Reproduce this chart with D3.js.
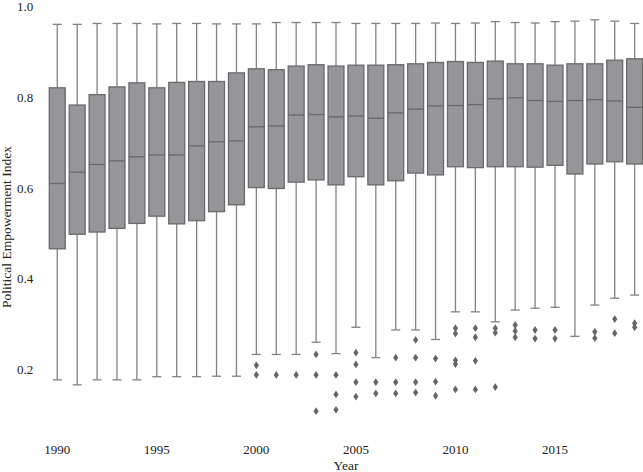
<!DOCTYPE html>
<html>
<head>
<meta charset="utf-8">
<script src="https://cdn.jsdelivr.net/npm/d3@7"></script>
<style>
  body { margin: 0; background: #fff; }
  text { font-family: "Liberation Serif", "Times New Roman", serif; fill: #222; }
</style>
</head>
<body>
<div id="chart"></div>
<script>
// Box statistics per year
const years = [1990, 1991, 1992, 1993, 1994, 1995, 1996, 1997, 1998, 1999,
               2000, 2001, 2002, 2003, 2004, 2005, 2006, 2007, 2008, 2009,
               2010, 2011, 2012, 2013, 2014, 2015, 2016, 2017, 2018, 2019];

const whiskerHi = [0.958, 0.958, 0.960, 0.960, 0.960, 0.959, 0.960, 0.960, 0.959, 0.959,
                   0.959, 0.962, 0.962, 0.962, 0.962, 0.960, 0.960, 0.960, 0.960, 0.961,
                   0.960, 0.961, 0.964, 0.962, 0.961, 0.964, 0.965, 0.968, 0.965, 0.960];

const q3 = [0.818, 0.780, 0.803, 0.820, 0.829, 0.818, 0.830, 0.832, 0.832, 0.851,
            0.860, 0.858, 0.866, 0.869, 0.866, 0.868, 0.868, 0.869, 0.871, 0.874,
            0.876, 0.874, 0.877, 0.871, 0.871, 0.868, 0.871, 0.871, 0.879, 0.882];

const median = [0.607, 0.632, 0.649, 0.657, 0.666, 0.670, 0.670, 0.690, 0.699, 0.701,
                0.732, 0.734, 0.758, 0.759, 0.754, 0.756, 0.751, 0.763, 0.771, 0.778,
                0.779, 0.781, 0.794, 0.796, 0.790, 0.788, 0.790, 0.792, 0.789, 0.775];

const q1 = [0.463, 0.495, 0.500, 0.508, 0.519, 0.535, 0.518, 0.525, 0.545, 0.560,
            0.598, 0.596, 0.610, 0.615, 0.604, 0.622, 0.604, 0.613, 0.630, 0.626,
            0.644, 0.642, 0.644, 0.644, 0.643, 0.647, 0.628, 0.650, 0.655, 0.650];

const whiskerLo = [0.174, 0.163, 0.174, 0.174, 0.174, 0.181, 0.181, 0.181, 0.182, 0.182,
                   0.230, 0.230, 0.230, 0.257, 0.232, 0.290, 0.223, 0.284, 0.284, 0.263,
                   0.324, 0.324, 0.302, 0.328, 0.332, 0.334, 0.270, 0.339, 0.354, 0.361];

const outliers = [[], [], [], [], [], [], [], [], [], [],
                  [0.206, 0.185],
                  [0.185],
                  [0.185],
                  [0.230, 0.185, 0.105],
                  [0.185, 0.142, 0.108],
                  [0.234, 0.208, 0.169, 0.137],
                  [0.169, 0.144],
                  [0.223, 0.169, 0.144],
                  [0.262, 0.223, 0.169, 0.146],
                  [0.221, 0.170, 0.139],
                  [0.288, 0.276, 0.217, 0.209, 0.153],
                  [0.288, 0.268, 0.216, 0.153],
                  [0.288, 0.278, 0.158],
                  [0.295, 0.282, 0.268],
                  [0.284, 0.265],
                  [0.284, 0.265],
                  [],
                  [0.280, 0.266],
                  [0.308, 0.277],
                  [0.299, 0.290]];

const xTickYears = [1990, 1995, 2000, 2005, 2010, 2015];
const yTicks = [0.2, 0.4, 0.6, 0.8, 1.0];

const width = 643;
const height = 472;

const svg = d3.select("#chart")
    .append("svg")
    .attr("width", width)
    .attr("height", height);

const x = d3.scaleBand()
    .domain(years)
    .range([47.3, 644.6])
    .padding(0);

const y = d3.scaleLinear()
    .domain([0.02, 1.0])
    .range([449.7, 5.3]);

const boxW = x.bandwidth() * 0.8;
const capW = 9;
const edge = "#6a6a6a";
const whisk = "#828282";

// y axis, no line and no ticks
const yAxis = svg.append("g")
    .attr("transform", "translate(47.3,0)")
    .call(d3.axisLeft(y).tickValues(yTicks).tickSize(0).tickPadding(14).tickFormat(d3.format(".1f")));
yAxis.select(".domain").remove();
yAxis.selectAll("text")
    .style("font-family", "Liberation Serif, serif")
    .style("font-size", "13px")
    .attr("dy", "0.42em")
    .attr("fill", "#222");

// x tick labels
svg.append("g")
    .selectAll("text")
    .data(xTickYears)
    .enter().append("text")
    .attr("x", d => x(d) + x.bandwidth() / 2)
    .attr("y", 454)
    .attr("text-anchor", "middle")
    .style("font-size", "13px")
    .text(d => d);

// axis titles
svg.append("text")
    .attr("x", (47.3 + 644.6) / 2)
    .attr("y", 469.5)
    .attr("text-anchor", "middle")
    .style("font-size", "13.5px")
    .text("Year");

svg.append("text")
    .attr("transform", "translate(11,227) rotate(-90)")
    .attr("text-anchor", "middle")
    .style("font-size", "13.5px")
    .text("Political Empowerment Index");

// boxes
const stats = years.map((yr, i) => ({
    year: yr, hi: whiskerHi[i], q3: q3[i], med: median[i], q1: q1[i], lo: whiskerLo[i], out: outliers[i]
}));

const box = svg.append("g")
    .selectAll("g")
    .data(stats)
    .enter().append("g")
    .attr("transform", d => `translate(${x(d.year) + x.bandwidth() / 2},0)`);

// whiskers
box.append("line")
    .attr("x1", 0).attr("x2", 0)
    .attr("y1", d => y(d.q3)).attr("y2", d => y(d.hi))
    .attr("stroke", whisk).attr("stroke-width", 1.3);
box.append("line")
    .attr("x1", 0).attr("x2", 0)
    .attr("y1", d => y(d.q1)).attr("y2", d => y(d.lo))
    .attr("stroke", whisk).attr("stroke-width", 1.3);

// caps
box.append("line")
    .attr("x1", -capW / 2).attr("x2", capW / 2)
    .attr("y1", d => y(d.hi)).attr("y2", d => y(d.hi))
    .attr("stroke", whisk).attr("stroke-width", 1.3);
box.append("line")
    .attr("x1", -capW / 2).attr("x2", capW / 2)
    .attr("y1", d => y(d.lo)).attr("y2", d => y(d.lo))
    .attr("stroke", whisk).attr("stroke-width", 1.3);

box.append("rect")
    .attr("x", -boxW / 2)
    .attr("width", boxW)
    .attr("y", d => y(d.q3))
    .attr("height", d => y(d.q1) - y(d.q3))
    .attr("fill", "#95959a")
    .attr("stroke", edge)
    .attr("stroke-width", 1.3);

box.append("line")
    .attr("x1", -boxW / 2).attr("x2", boxW / 2)
    .attr("y1", d => y(d.med)).attr("y2", d => y(d.med))
    .attr("stroke", edge).attr("stroke-width", 1.3);

// outliers as diamonds
box.selectAll("path")
    .data(d => d.out)
    .enter().append("path")
    .attr("d", v => {
        const cy = y(v);
        return `M0,${cy - 3.9}L2.6,${cy}L0,${cy + 3.9}L-2.6,${cy}Z`;
    })
    .attr("fill", "#666666");
</script>
</body>
</html>
